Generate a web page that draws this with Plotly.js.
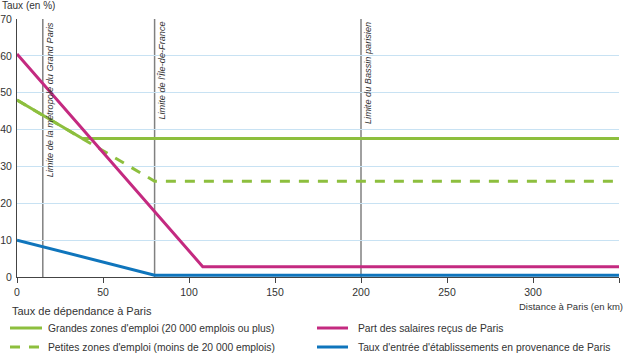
<!DOCTYPE html>
<html><head><meta charset="utf-8">
<script src="https://cdn.plot.ly/plotly-3.0.1.min.js"></script>
<style>body{margin:0;background:#fff}#c{width:626px;height:355px}</style>
</head><body><div id="c"></div>
<script>
// Data
const grandesX = [0, 38, 350];
const grandesY = [48, 37.6, 37.6];
const petitesX = [0, 38, 80, 350];
const petitesY = [48, 37.6, 26, 26];
const salairesX = [0, 108, 350];
const salairesY = [60.5, 2.8, 2.8];
const entreeX = [0, 80, 350];
const entreeY = [10, 0.5, 0.5];
const limitesX = [15, 80, 200];
const limitesLabels = ["Limite de la métropole du Grand Paris", "Limite de l'Île-de-France", "Limite du Bassin parisien"];
const xTicks = [0, 50, 100, 150, 200, 250, 300, 350];
const yTicks = [0, 10, 20, 30, 40, 50, 60, 70];
const names = ["Grandes zones d'emploi (20 000 emplois ou plus)", "Part des salaires reçus de Paris", "Petites zones d'emploi (moins de 20 000 emplois)", "Taux d'entrée d'établissements en provenance de Paris"];
const legendTitle = "Taux de dépendance à Paris";

const FONT = "Liberation Sans, Arial, sans-serif";
const green = "#8dbf3e", magenta = "#c42a80", blue = "#0f75bc";
const colors = [green, magenta, green, blue];
const dashes = ["solid", "solid", "10px,9px", "solid"];

const W = 626, H = 355, ML = 17, MR = 7, MT = 19, MB = 78;
const PW = W - ML - MR, PH = H - MT - MB;
const px = v => (v - ML) / PW;          // pixel x -> paper
const py = v => (H - MB - v) / PH;      // pixel y -> paper

const xs = [grandesX, salairesX, petitesX, entreeX];
const ys = [grandesY, salairesY, petitesY, entreeY];
const drawOrder = [0, 2, 1, 3];
const traces = drawOrder.map(i => ({x: xs[i], y: ys[i], name: names[i], mode: "lines", showlegend: false,
  line: {color: colors[i], width: 3, dash: dashes[i]}}));

const shapes = limitesX.map(v => ({type: "line", xref: "x", yref: "y", x0: v, x1: v, y0: 0, y1: 70, line: {color: "#808080", width: 1.5}, layer: "below"}));

const annotations = limitesX.map((v, i) => ({
  x: v, y: 70, xref: "x", yref: "y", text: "<i>" + limitesLabels[i] + "</i>", textangle: -90,
  showarrow: false, xanchor: "left", yanchor: "top", xshift: 0, yshift: -1,
  font: {family: FONT, size: 9.2, color: "#333"}
}));
annotations.push({x: px(0), y: py(13), xref: "paper", yref: "paper", text: "Taux (en %)", showarrow: false, xanchor: "left", yanchor: "bottom", font: {family: FONT, size: 10, color: "#333"}});
annotations.push({x: px(625), y: py(306), xref: "paper", yref: "paper", text: "Distance à Paris (en km)", showarrow: false, xanchor: "right", yanchor: "middle", font: {family: FONT, size: 9.5, color: "#333"}});
annotations.push({x: px(10), y: py(311), xref: "paper", yref: "paper", text: legendTitle, showarrow: false, xanchor: "left", yanchor: "middle", font: {family: FONT, size: 11, color: "#333"}});

// manual legend: row-major, 2 columns
const colX = [[10, 42, 46], [317, 348, 356]];
const rowY = [328, 347];
names.forEach((n, i) => {
  const c = colX[i % 2], r = rowY[Math.floor(i / 2)];
  shapes.push({type: "line", xref: "paper", yref: "paper", x0: px(c[0]), x1: px(c[1]), y0: py(r), y1: py(r),
    line: {color: colors[i], width: 3, dash: dashes[i]}});
  annotations.push({x: px(c[2]), y: py(r), xref: "paper", yref: "paper", text: n, showarrow: false,
    xanchor: "left", yanchor: "middle", font: {family: FONT, size: 10.3, color: "#333"}});
});

const layout = {
  width: W, height: H,
  margin: {l: ML, r: MR, t: MT, b: MB},
  paper_bgcolor: "#fff", plot_bgcolor: "#fff",
  font: {family: FONT, size: 11, color: "#333"},
  xaxis: {range: [0, 350], tickvals: xTicks, ticktext: xTicks.map(String), showgrid: false, zeroline: false,
          showline: true, linecolor: "#444", linewidth: 1, ticks: "outside", ticklen: 5, tickcolor: "#444",
          tickfont: {family: FONT, size: 10.5, color: "#333"}, fixedrange: true, automargin: false},
  yaxis: {range: [0, 70], tickvals: yTicks, ticktext: yTicks.map(String), showgrid: true, gridcolor: "#c8e2f3", gridwidth: 1,
          zeroline: false, showline: true, linecolor: "#444", linewidth: 1, ticks: "", ticklabelstandoff: 2,
          tickfont: {family: FONT, size: 10.5, color: "#333"}, fixedrange: true, automargin: false},
  shapes: shapes,
  annotations: annotations,
  showlegend: false
};
Plotly.newPlot("c", traces, layout, {displayModeBar: false, staticPlot: true});
</script></body></html>
